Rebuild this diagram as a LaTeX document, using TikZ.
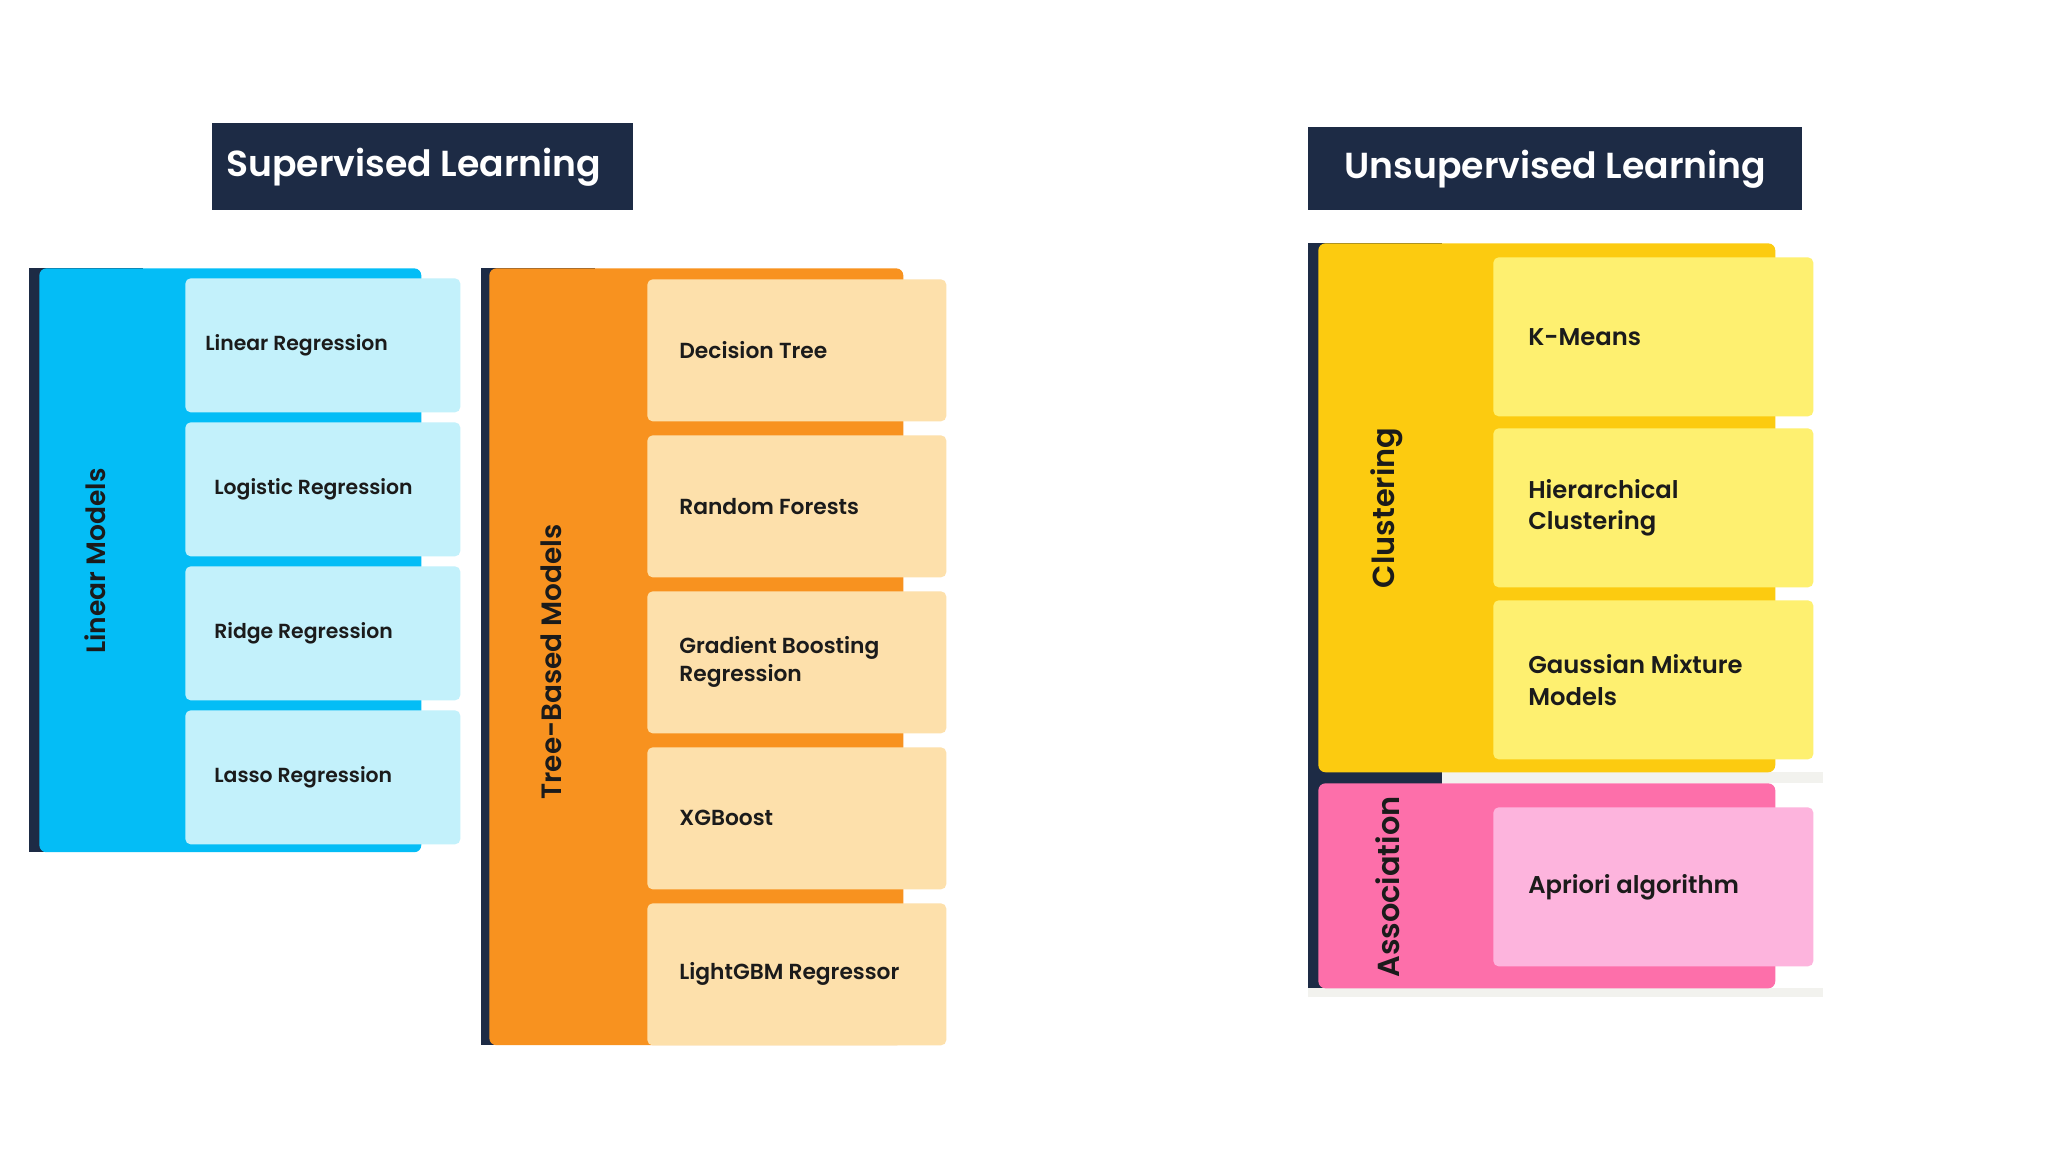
\documentclass[tikz,border=0pt]{standalone}
\usepackage{fontspec}
\setmainfont{Poppins}[UprightFont={* SemiBold}, BoldFont={* Bold}]
\usepackage{tikz}
\usetikzlibrary{positioning}
\definecolor{navy}{HTML}{1D2B45}
\definecolor{ink}{HTML}{1B1B1B}
\definecolor{mist}{HTML}{F2F2EE}
\definecolor{linblue}{HTML}{04BDF6}
\definecolor{linlight}{HTML}{C3F1FB}
\definecolor{treeorange}{HTML}{F8921F}
\definecolor{treelight}{HTML}{FDE0AB}
\definecolor{clusyellow}{HTML}{FCCB10}
\definecolor{cluslight}{HTML}{FEF070}
\definecolor{asspink}{HTML}{FD6FAA}
\definecolor{asslight}{HTML}{FDB4DD}

\begin{document}
\begin{tikzpicture}[
    x=0.02cm, y=-0.02cm,
    head/.style={rectangle, fill=navy, text=white, anchor=north west, inner sep=0pt, font=\fontsize{20.6}{24}\selectfont},
    panel/.style={rectangle, anchor=north west, inner sep=0pt, rounded corners=4pt},
    side/.style={rotate=90, text=ink, inner sep=0pt},
    item/.style={rectangle, anchor=north west, inner sep=0pt, rounded corners=3pt},
    itemtxt/.style={anchor=west, align=left, inner sep=0pt, text=ink}
]
    \fill[white] (0,0) rectangle (2048,1152);
    \useasboundingbox (0,0) rectangle (2048,1152);

    % headers
    \node[head, minimum width=8.42cm, minimum height=1.74cm] (sup) at (212,123) {\hspace*{-0.36cm}Supervised Learning};
    \node[head, minimum width=9.88cm, minimum height=1.66cm] (unsup) at (1308,127) {Unsupervised Learning};

    % linear models
    \fill[navy] (29,268) rectangle (143,852);
    \node[panel, fill=linblue, minimum width=7.64cm, minimum height=11.68cm] (lin) at (39,268) {};
    \node[side, font=\fontsize{15.1}{18}\selectfont] (linlab) at (95,561) {Linear Models};
    \node[item, fill=linlight, minimum width=5.5cm, minimum height=2.68cm] (linreg) at (185,278) {};
    \node[item, fill=linlight, minimum width=5.5cm, minimum height=2.68cm] (logreg) at (185,422) {};
    \node[item, fill=linlight, minimum width=5.5cm, minimum height=2.68cm] (ridge) at (185,566) {};
    \node[item, fill=linlight, minimum width=5.5cm, minimum height=2.68cm] (lasso) at (185,710) {};
    \begin{scope}[every node/.append style={font=\fontsize{11.6}{14}\selectfont}]
    \node[itemtxt] (linregtxt) at ([xshift=0.4cm]linreg.west) {Linear Regression};
    \node[itemtxt] (logregtxt) at ([xshift=0.58cm]logreg.west) {Logistic Regression};
    \node[itemtxt] (ridgetxt) at ([xshift=0.58cm]ridge.west) {Ridge Regression};
    \node[itemtxt] (lassotxt) at ([xshift=0.58cm]lasso.west) {Lasso Regression};
    \end{scope}

    % tree-based models
    \fill[navy] (481,268) rectangle (595,1045);
    \node[panel, fill=treeorange, minimum width=8.28cm, minimum height=15.54cm] (tree) at (489,268) {};
    \node[side, font=\fontsize{15.9}{19}\selectfont] (treelab) at (551,662) {Tree-Based Models};
    \node[item, fill=treelight, minimum width=5.98cm, minimum height=2.84cm] (dtree) at (647,279) {};
    \node[item, fill=treelight, minimum width=5.98cm, minimum height=2.84cm] (rforest) at (647,435) {};
    \node[item, fill=treelight, minimum width=5.98cm, minimum height=2.84cm] (gboost) at (647,591) {};
    \node[item, fill=treelight, minimum width=5.98cm, minimum height=2.84cm] (xgb) at (647,747) {};
    \node[item, fill=treelight, minimum width=5.98cm, minimum height=2.84cm] (lgbm) at (647,903) {};
    \begin{scope}[every node/.append style={font=\fontsize{12.4}{16}\selectfont}]
    \node[itemtxt] (dtreetxt) at ([xshift=0.64cm]dtree.west) {Decision Tree};
    \node[itemtxt] (rforesttxt) at ([xshift=0.64cm]rforest.west) {Random Forests};
    \node[itemtxt] (gboosttxt) at ([xshift=0.64cm]gboost.west) {Gradient Boosting\\Regression};
    \node[itemtxt] (xgbtxt) at ([xshift=0.64cm]xgb.west) {XGBoost};
    \node[itemtxt] (lgbmtxt) at ([xshift=0.64cm]lgbm.west) {LightGBM Regressor};
    \end{scope}

    % clustering and association
    \fill[mist] (1442,772) rectangle (1823,783);
    \fill[mist] (1308,988) rectangle (1823,997);
    \fill[navy] (1308,243) rectangle (1442,988);
    \node[panel, fill=clusyellow, minimum width=9.14cm, minimum height=10.58cm] (clus) at (1318,243) {};
    \node[panel, fill=asspink, minimum width=9.14cm, minimum height=4.1cm] (assoc) at (1318,783) {};
    \node[side, font=\fontsize{17.3}{20}\selectfont] (cluslab) at (1387,508) {Clustering};
    \node[side, font=\fontsize{17.3}{20}\selectfont] (assoclab) at (1388,887) {Association};
    \node[item, fill=cluslight, minimum width=6.4cm, minimum height=3.18cm] (kmeans) at (1493,257) {};
    \node[item, fill=cluslight, minimum width=6.4cm, minimum height=3.18cm] (hier) at (1493,428) {};
    \node[item, fill=cluslight, minimum width=6.4cm, minimum height=3.18cm] (gmm) at (1493,600) {};
    \node[item, fill=asslight, minimum width=6.4cm, minimum height=3.18cm] (apriori) at (1493,807) {};
    \begin{scope}[every node/.append style={font=\fontsize{13.8}{18}\selectfont}]
    \node[itemtxt] (kmeanstxt) at ([xshift=0.7cm]kmeans.west) {K-Means};
    \node[itemtxt] (hiertxt) at ([xshift=0.7cm]hier.west) {Hierarchical\\Clustering};
    \node[itemtxt] (gmmtxt) at ([xshift=0.7cm]gmm.west) {Gaussian Mixture\\Models};
    \node[itemtxt] (aprioritxt) at ([xshift=0.7cm]apriori.west) {Apriori algorithm};
    \end{scope}
\end{tikzpicture}
\end{document}
